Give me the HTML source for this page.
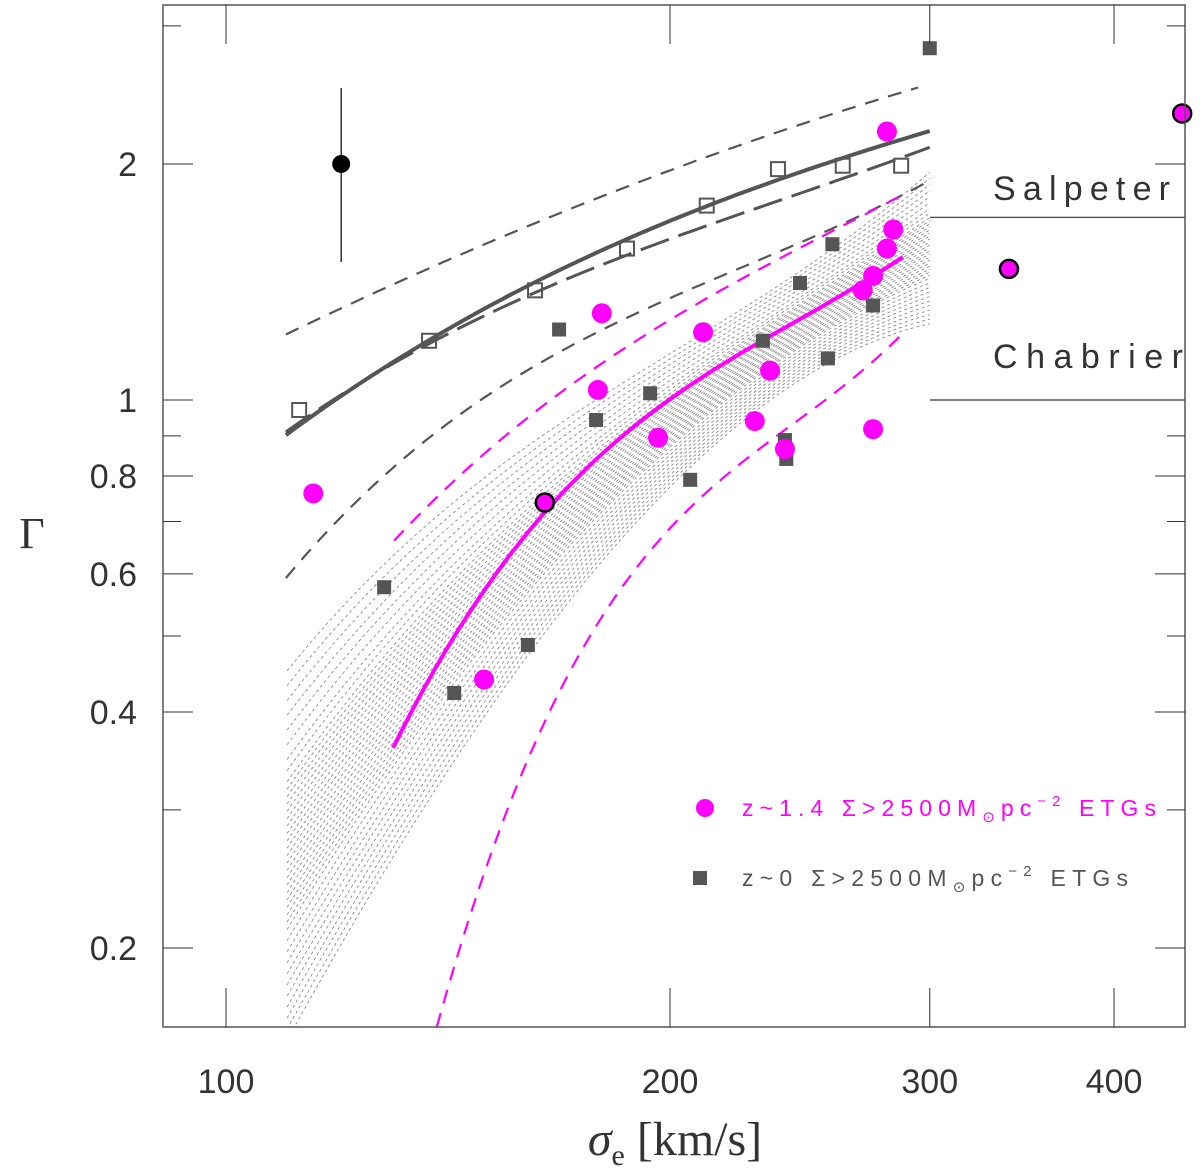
<!DOCTYPE html>
<html><head><meta charset="utf-8"><style>
html,body{margin:0;padding:0;background:#fff}
svg{display:block}
text{font-family:"Liberation Sans","DejaVu Sans",sans-serif;fill:#333}
</style></head><body>
<svg id="chart" width="1200" height="1172" viewBox="0 0 1200 1172" xmlns="http://www.w3.org/2000/svg">
<defs><clipPath id="clip"><rect x="163" y="5" width="1022" height="1022"/></clipPath></defs>
<g id="fan" clip-path="url(#clip)"></g>
<g id="curves" clip-path="url(#clip)"></g>
<g id="refs"></g>
<g id="points"></g>
<rect x="163" y="5" width="1022" height="1022" fill="none" stroke="#555" stroke-width="1.5"/>
<g id="axes"></g>
<text x="993" y="200" font-size="34" textLength="177">Salpeter</text>
<text x="993" y="368" font-size="34" textLength="190">Chabrier</text>
<g>
<circle cx="705" cy="808" r="9" fill="#ff00ff"/>
<text x="742" y="816" font-size="23" style="fill:#ff00ff" textLength="414">z~1.4 Σ&gt;2500M<tspan font-size="15" dy="6">⊙</tspan><tspan dy="-6">pc</tspan><tspan font-size="15" dy="-10">−2</tspan><tspan dy="10"> ETGs</tspan></text>
<rect x="693" y="871" width="14" height="14" fill="#555"/>
<text x="742" y="886" font-size="23" style="fill:#555" textLength="386">z~0 Σ&gt;2500M<tspan font-size="15" dy="6">⊙</tspan><tspan dy="-6">pc</tspan><tspan font-size="15" dy="-10">−2</tspan><tspan dy="10"> ETGs</tspan></text>
</g>
<text x="32" y="548" font-size="44" text-anchor="middle" style="font-family:'Liberation Serif',serif">Γ</text>
<text x="675" y="1155" font-size="48" text-anchor="middle" style="font-family:'Liberation Serif',serif"><tspan font-style="italic">σ</tspan><tspan font-size="30" dy="10">e</tspan><tspan dy="-10"> [km/s]</tspan></text>
</svg>
<script>
const NS="http://www.w3.org/2000/svg";
// axes
const xTicks=[100,200,300,400];
const yTicks=[0.2,0.3,0.4,0.5,0.6,0.7,0.8,0.9,1,2,3];
const yLabels=[0.2,0.4,0.6,0.8,1,2];
// z~1.4 ETGs (magenta)
const magSigma=[114.6,149.6,178.7,179.8,196.3,210.6,228.3,233.8,239.3,270.2,274.6,274.6,280.6,280.6,283.4];
const magGamma=[0.76,0.44,1.03,1.29,0.895,1.22,0.94,1.09,0.866,1.38,1.44,0.918,1.56,2.20,1.65];
const magEdgeSigma=[164.5,339.5,444.9];
const magEdgeGamma=[0.74,1.47,2.32];
// z~0 ETGs (grey squares)
const sqSigma=[300,128,142.8,160.2,168.2,178.2,193.9,206.4,231.2,239.3,239.8,245,255.9,257.7,274.6];
const sqGamma=[2.81,0.577,0.423,0.487,1.23,0.943,1.02,0.791,1.19,0.889,0.841,1.41,1.13,1.58,1.32];
// open squares
const openSigma=[112.1,137.3,162,187,211.8,236.7,261.9,286.9];
const openGamma=[0.971,1.19,1.38,1.56,1.77,1.97,1.99,1.99];
// black point with error bar
const blkSigma=[119.7], blkGamma=[2.0], blkLo=[1.5], blkHi=[2.5];
// curves
const solidS=[109.8,137,161.3,186.5,211.3,262.4,300];
const solidG=[0.90,1.20,1.40,1.585,1.78,2.04,2.20];
const longS=[109.8,137,161,215.6,300];
const longG=[0.91,1.18,1.36,1.69,2.10];
const upS=[109.8,141.4,184.1,213.9,294.6];
const upG=[1.21,1.52,1.82,2.08,2.50];
const lowS=[109.8,126.6,149.1,179.3,209.9,299.2];
const lowG=[0.593,0.786,1.0,1.23,1.40,1.90];
const mS=[129.8,134.4,146.1,164.5,190.2,224.1,287.7];
const mG=[0.362,0.406,0.533,0.73,0.918,1.16,1.52];
const muS=[130,151,178.2,209.9,239.3,286];
const muG=[0.665,0.853,1.12,1.33,1.52,1.82];
const mlS=[139,165.5,184.1,209.9,239.3,287.7];
const mlG=[0.158,0.406,0.562,0.73,0.94,1.21];
// fan envelopes
const fanS=[110,130,165,200,250,300];
const fanUp=[0.45,0.64,0.90,1.15,1.50,1.95];
const fanLo=[0.158,0.24,0.55,0.78,1.03,1.28];
const fanFrac=[0,0.03,0.06,0.09,0.12,0.15,0.18,0.21,0.24,0.27,0.3,0.32,0.34,0.36,0.38,0.4,0.42,0.44,0.46,0.48,0.5,0.52,0.54,0.56,0.58,0.6,0.62,0.64,0.66,0.68,0.7,0.73,0.76,0.8,0.84,0.88,0.92,0.96,1];

const X=v=>226+1475*Math.log10(v/100);
const Y=v=>400-784*Math.log10(v);
function mk(tag,attrs,parent){const e=document.createElementNS(NS,tag);for(const k in attrs)e.setAttribute(k,attrs[k]);parent.appendChild(e);return e;}
// least-squares polynomial in log-log space, sampled densely
function polyfit(xs,ys,deg){const n=deg+1;const A=[];for(let i=0;i<n;i++){A.push(new Array(n+1).fill(0));}
 xs.forEach((x,k)=>{for(let i=0;i<n;i++){for(let j=0;j<n;j++)A[i][j]+=Math.pow(x,i+j);A[i][n]+=ys[k]*Math.pow(x,i);}});
 for(let i=0;i<n;i++){let p=i;for(let r=i+1;r<n;r++)if(Math.abs(A[r][i])>Math.abs(A[p][i]))p=r;[A[i],A[p]]=[A[p],A[i]];
  for(let r=0;r<n;r++){if(r===i)continue;const f=A[r][i]/A[i][i];for(let c=i;c<=n;c++)A[r][c]-=f*A[i][c];}}
 return A.map((row,i)=>row[n]/row[i]);}
function fitD(S,G){const lx=S.map(s=>Math.log10(s)),ly=G.map(g=>Math.log10(g));const deg=Math.min(3,S.length-2);
 const c=polyfit(lx.map(v=>v-2.3),ly,deg);let d='';const a=lx[0],b=lx[lx.length-1];
 for(let i=0;i<=60;i++){const x=a+(b-a)*i/60;let y=0;c.forEach((ci,k)=>y+=ci*Math.pow(x-2.3,k));
  d+=(i?'L':'M')+(226+1475*(x-2)).toFixed(1)+','+(400-784*y).toFixed(1);}return d;}

const fan=document.getElementById('fan');
fanFrac.forEach((f,i)=>{
 const G=fanS.map((s,j)=>Math.exp(Math.log(fanLo[j])+f*(Math.log(fanUp[j])-Math.log(fanLo[j]))));
 const el=mk('path',{d:fitD(fanS,G),fill:'none',stroke:'#8a8a8a','stroke-width':0.9,'stroke-dasharray':'3,3'},fan);
 
 
});
const cv=document.getElementById('curves');
function curve(S,G,name,color,w,dash){const el=mk('path',{d:fitD(S,G),fill:'none',stroke:color,'stroke-width':w},cv);if(dash)el.setAttribute('stroke-dasharray',dash);
 
 }
curve(upS,upG,'upper-dashed-curve','#555',2.2,'14,10');
curve(lowS,lowG,'lower-dashed-curve','#555',2.2,'14,10');
curve(longS,longG,'long-dash-curve','#555',3,'30,10');
curve(solidS,solidG,'solid-fit-curve','#555',4,null);
curve(muS,muG,'magenta-upper-dashed','#ff00ff',2.2,'14,10');
curve(mlS,mlG,'magenta-lower-dashed','#ff00ff',2.2,'14,10');
curve(mS,mG,'magenta-fit-curve','#ff00ff',4,null);

const refs=document.getElementById('refs');
[[1.71,'salpeter-line'],[1.0,'chabrier-line']].forEach(([g,n])=>{
 const el=mk('line',{x1:930,x2:1185,y1:Y(g),y2:Y(g),stroke:'#333','stroke-width':1.2},refs);
 
 
});

const pts=document.getElementById('points');
blkSigma.forEach((s,i)=>{
 const l=mk('line',{x1:X(s),x2:X(s),y1:Y(blkHi[i]),y2:Y(blkLo[i]),stroke:'#000','stroke-width':1.2},pts);
 
 
 const c=mk('circle',{cx:X(s),cy:Y(blkGamma[i]),r:9,fill:'#000'},pts);
 
 
});
openSigma.forEach((s,i)=>{
 const r=mk('rect',{x:X(s)-7,y:Y(openGamma[i])-7,width:14,height:14,fill:'none',stroke:'#555','stroke-width':2},pts);
 
 
});
sqSigma.forEach((s,i)=>{
 const r=mk('rect',{x:X(s)-7,y:Y(sqGamma[i])-7,width:14,height:14,fill:'#555'},pts);
 
 
});
magSigma.forEach((s,i)=>{
 const c=mk('circle',{cx:X(s),cy:Y(magGamma[i]),r:10,fill:'#ff00ff'},pts);
 
 
});
magEdgeSigma.forEach((s,i)=>{
 const c=mk('circle',{cx:X(s),cy:Y(magEdgeGamma[i]),r:9,fill:'#ff00ff',stroke:'#000','stroke-width':2.5},pts);
 
 
});

const ax=document.getElementById('axes');
xTicks.forEach(v=>{
 const t=mk('line',{x1:X(v),x2:X(v),y1:1027,y2:988,stroke:'#333','stroke-width':1},ax);
 
 
 const t2=mk('line',{x1:X(v),x2:X(v),y1:5,y2:44,stroke:'#333','stroke-width':1},ax);
 
 
 const lb=mk('text',{x:X(v),y:1093,'font-size':34,'text-anchor':'middle'},ax);
 lb.textContent=String(v);
 
 
});
yTicks.forEach(v=>{
 const major=yLabels.includes(v);const len=major?30:18;
 const t=mk('line',{x1:163,x2:163+len,y1:Y(v),y2:Y(v),stroke:'#333','stroke-width':1},ax);
 
 
 const t2=mk('line',{x1:1185,x2:1185-len,y1:Y(v),y2:Y(v),stroke:'#333','stroke-width':1},ax);
 
 
});
yLabels.forEach(v=>{
 const lb=mk('text',{x:137,y:Y(v)+12,'font-size':34,'text-anchor':'end'},ax);
 lb.textContent=String(v);
 
 
});
</script>
</body></html>
